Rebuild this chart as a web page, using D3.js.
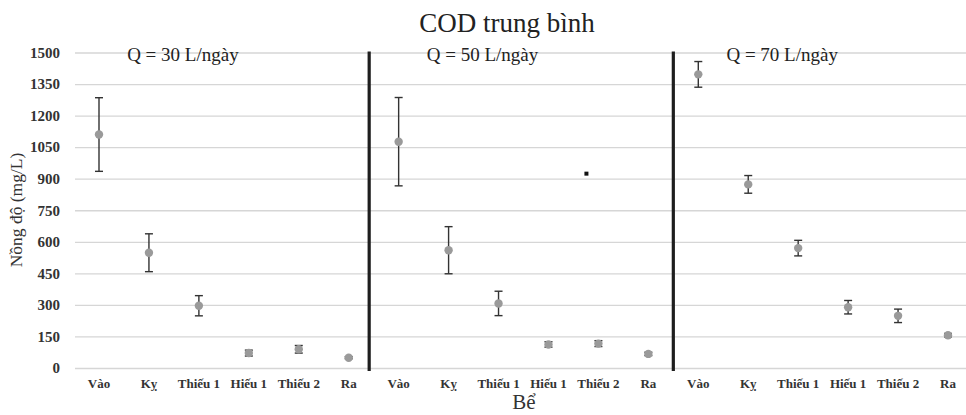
<!DOCTYPE html>
<html>
<head>
<meta charset="utf-8">
<script src="https://cdn.jsdelivr.net/npm/d3@7"></script>
<style>
  body { margin: 0; background: #fff; }
  svg { display: block; }
</style>
</head>
<body>
<svg id="chart"></svg>
<script>
const width = 966, height = 415;
const serifFont = '"Liberation Serif"';

// Categories (tanks) repeated for each flow rate group
const tanks = ['Vào', 'Kỵ', 'Thiếu 1', 'Hiếu 1', 'Thiếu 2', 'Ra'];
const groups = ['Q = 30 L/ngày', 'Q = 50 L/ngày', 'Q = 70 L/ngày'];

// Mean COD (mg/L) per tank, one array per group
const mean30 = [1110, 548, 296, 71, 89, 49];
const mean50 = [1076, 560, 307, 112, 116, 67];
const mean70 = [1396, 873, 570, 289, 248, 156];

// Error (+/-) per tank
const err30 = [175, 90, 48, 14, 18, 5];
const err50 = [210, 112, 58, 13, 14, 8];
const err70 = [61, 42, 37, 32, 32, 8];

// Stray black marker in the middle panel
const strayPoint = { pos: 9.76, value: 924 };

const yTicks = [0, 150, 300, 450, 600, 750, 900, 1050, 1200, 1350, 1500];
const dividerPos = [5.41, 11.5];

const margin = { top: 52.5, right: 0, bottom: 47, left: 75 };

const svg = d3.select('#chart')
  .attr('width', width)
  .attr('height', height);

// flatten into point list
const means = [mean30, mean50, mean70];
const errs = [err30, err50, err70];
const points = [];
groups.forEach((g, gi) => {
  tanks.forEach((t, ti) => {
    points.push({ idx: gi * tanks.length + ti, tank: t, mean: means[gi][ti], err: errs[gi][ti] });
  });
});

const x = d3.scaleLinear()
  .domain([0, points.length - 1])
  .range([99, 948]);

const y = d3.scaleLinear()
  .domain([0, 1500])
  .range([368, margin.top]);

// Gridlines + y tick labels
const yAxis = svg.append('g')
  .attr('transform', `translate(${margin.left},0)`)
  .call(d3.axisLeft(y).tickValues(yTicks).tickFormat(d3.format('d'))
    .tickSize(-(width - margin.left)).tickPadding(15));

yAxis.attr('font-family', null).attr('font-size', null);
yAxis.select('.domain').remove();
yAxis.selectAll('.tick line').attr('stroke', '#d6d6d6').attr('stroke-width', 1.3);
yAxis.selectAll('.tick text')
  .style('font-family', serifFont)
  .style('font-size', '15px')
  .style('font-weight', 'bold')
  .attr('fill', '#333');

// Group dividers
svg.selectAll('.divider')
  .data(dividerPos)
  .enter()
  .append('line')
  .attr('class', 'divider')
  .attr('x1', d => x(d))
  .attr('x2', d => x(d))
  .attr('y1', margin.top - 1)
  .attr('y2', y(0) + 3)
  .attr('stroke', '#1e1e1e')
  .attr('stroke-width', 3.2);

// Error bars
const eb = svg.selectAll('.errbar')
  .data(points)
  .enter()
  .append('g')
  .attr('class', 'errbar')
  .attr('stroke', '#333')
  .attr('stroke-width', 1.4);

eb.append('line')
  .attr('x1', d => x(d.idx)).attr('x2', d => x(d.idx))
  .attr('y1', d => y(d.mean + d.err)).attr('y2', d => y(d.mean - d.err));

eb.append('line')
  .attr('x1', d => x(d.idx) - 4).attr('x2', d => x(d.idx) + 4)
  .attr('y1', d => y(d.mean + d.err)).attr('y2', d => y(d.mean + d.err));

eb.append('line')
  .attr('x1', d => x(d.idx) - 4).attr('x2', d => x(d.idx) + 4)
  .attr('y1', d => y(d.mean - d.err)).attr('y2', d => y(d.mean - d.err));

// Mean markers
svg.selectAll('.pt')
  .data(points)
  .enter()
  .append('circle')
  .attr('class', 'pt')
  .attr('cx', d => x(d.idx))
  .attr('cy', d => y(d.mean))
  .attr('r', 4.2)
  .attr('fill', '#9a9a9a');

// Stray marker
svg.append('rect')
  .attr('x', x(strayPoint.pos) - 2)
  .attr('y', y(strayPoint.value) - 2)
  .attr('width', 4)
  .attr('height', 4)
  .attr('fill', '#111');

// X category labels
svg.selectAll('.xlab')
  .data(points)
  .enter()
  .append('text')
  .attr('class', 'xlab')
  .attr('x', d => x(d.idx))
  .attr('y', 388)
  .attr('text-anchor', 'middle')
  .style('font-family', serifFont)
  .style('font-size', '13px')
  .style('font-weight', 'bold')
  .attr('fill', '#333')
  .text(d => d.tank);

// Group labels
svg.selectAll('.glab')
  .data(groups)
  .enter()
  .append('text')
  .attr('class', 'glab')
  .attr('x', (d, i) => x(i * tanks.length + 1.68))
  .attr('y', 61)
  .attr('text-anchor', 'middle')
  .style('font-family', serifFont)
  .style('font-size', '19px')
  .attr('fill', '#222')
  .text(d => d);

// Title
svg.append('text')
  .attr('x', 507)
  .attr('y', 32)
  .attr('text-anchor', 'middle')
  .style('font-family', serifFont)
  .style('font-size', '27px')
  .attr('fill', '#222')
  .text('COD trung bình');

// Axis titles
svg.append('text')
  .attr('transform', 'translate(22,210) rotate(-90)')
  .attr('text-anchor', 'middle')
  .style('font-family', serifFont)
  .style('font-size', '17.5px')
  .attr('fill', '#333')
  .text('Nồng độ (mg/L)');

svg.append('text')
  .attr('x', 524)
  .attr('y', 409)
  .attr('text-anchor', 'middle')
  .style('font-family', serifFont)
  .style('font-size', '21px')
  .attr('fill', '#333')
  .text('Bể');
</script>
</body>
</html>
